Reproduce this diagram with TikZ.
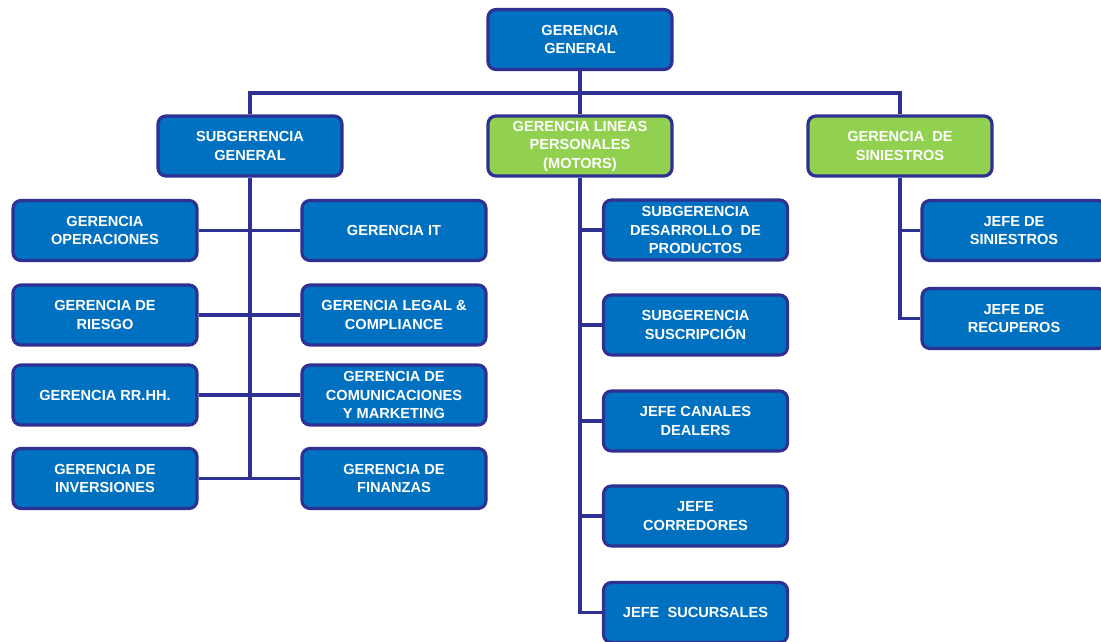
\documentclass[tikz,border=0pt]{standalone}
\usepackage{fontspec}
\setmainfont{Liberation Sans}
\usetikzlibrary{backgrounds}
\definecolor{boxblue}{HTML}{0070C0}
\definecolor{boxgreen}{HTML}{92D050}
\definecolor{edgeline}{HTML}{2E3192}
\begin{document}
\begin{tikzpicture}[x=1pt,y=-1pt,
  unit/.style={draw=edgeline, line width=3.2pt, rounded corners=8pt,
    fill=boxblue, text=white, minimum width=184pt, minimum height=60pt,
    inner sep=0pt, align=center,
    font=\bfseries\fontsize{14.6}{18.5}\selectfont},
  lead/.style={unit, fill=boxgreen},
  link/.style={draw=edgeline, line width=3.2pt}]
\useasboundingbox (0,0) rectangle (1101,642);
\clip (0,0) rectangle (1101,642);

% top level
\node[unit] (gg) at (580,39.5) {GERENCIA\\GENERAL};

% second level
\node[unit] (sg)  at (250,146) {SUBGERENCIA\\GENERAL};
\node[lead] (glp) at (580,146) {GERENCIA LINEAS\\PERSONALES\\(MOTORS)};
\node[lead] (gsi) at (900,146) {GERENCIA\ \ DE\\SINIESTROS};
\coordinate (bus) at (580,93);

% subgerencia general, left column
\node[unit] (ope) at (105,230.5) {GERENCIA\\OPERACIONES};
\node[unit] (rie) at (105,315)   {GERENCIA DE\\RIESGO};
\node[unit] (rrh) at (105,395)   {GERENCIA RR.HH.};
\node[unit] (inv) at (105,478.5) {GERENCIA DE\\INVERSIONES};

% subgerencia general, right column
\node[unit] (git) at (394,230.5) {GERENCIA IT};
\node[unit] (leg) at (394,315)   {GERENCIA LEGAL \&\\COMPLIANCE};
\node[unit] (com) at (394,395)   {GERENCIA DE\\COMUNICACIONES\\Y MARKETING};
\node[unit] (fin) at (394,478.5) {GERENCIA DE\\FINANZAS};

% lineas personales
\node[unit] (des) at (695.5,230) {SUBGERENCIA\\DESARROLLO\ \ DE\\PRODUCTOS};
\node[unit] (sus) at (695.5,325) {SUBGERENCIA\\SUSCRIPCIÓN};
\node[unit] (dea) at (695.5,421) {JEFE CANALES\\DEALERS};
\node[unit] (cor) at (695.5,516) {JEFE\\CORREDORES};
\node[unit] (suc) at (695.5,612.5) {JEFE\ \ SUCURSALES};

% siniestros
\node[unit] (jsi) at (1014,230.5) {JEFE DE\\SINIESTROS};
\node[unit] (rec) at (1014,318.5) {JEFE DE\\RECUPEROS};

\begin{scope}[on background layer]
  % top bus
  \draw[link] (gg.south) -- (glp.north);
  \draw[link] (sg.north) |- (bus) -| (gsi.north);

  % subgerencia general trunk
  \draw[link] (sg.south) -- (sg.south |- inv.east);
  \foreach \n in {ope,rie,rrh,inv}
    \draw[link] (\n.east) -- (\n.east -| sg.south);
  \foreach \n in {git,leg,com,fin}
    \draw[link] (\n.west) -- (\n.west -| sg.south);

  % lineas personales trunk
  \draw[link] (glp.south) |- (suc.west);
  \foreach \n in {des,sus,dea,cor}
    \draw[link] (\n.west -| glp.south) -- (\n.west);

  % siniestros trunk
  \draw[link] (gsi.south) |- (rec.west);
  \draw[link] (jsi.west -| gsi.south) -- (jsi.west);
\end{scope}
\end{tikzpicture}
\end{document}
